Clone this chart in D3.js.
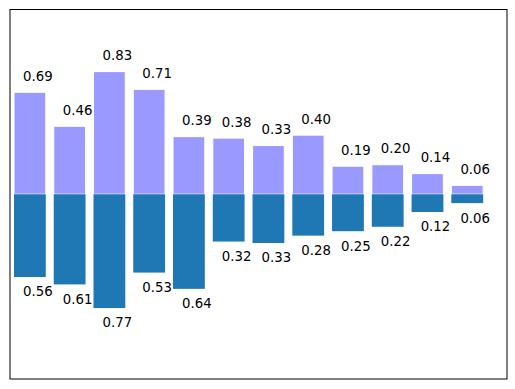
<!DOCTYPE html>
<html><head><meta charset="utf-8">
<script src="https://cdn.jsdelivr.net/npm/d3@7"></script>
<style>body{margin:0;background:#fff}svg{display:block}</style>
</head><body>
<script>
const categories = [0,1,2,3,4,5,6,7,8,9,10,11];
const upper = [0.69,0.46,0.83,0.71,0.39,0.38,0.33,0.40,0.19,0.20,0.14,0.06];
const lower = [0.56,0.61,0.77,0.53,0.64,0.32,0.33,0.28,0.25,0.22,0.12,0.06];

const W = 515, H = 389;
const L = 10, R = 507, T = 9.5, B = 379;
const svg = d3.select("body").append("svg").attr("width", W).attr("height", H);
const x = d3.scaleLinear().domain([-0.5, 12]).range([L, R]);
const y = d3.scaleLinear().domain([-1.25, 1.25]).range([B, T]);
const bw = x(0.8) - x(0);

svg.selectAll("rect.up").data(categories).enter().append("rect")
  .attr("x", d => x(d - 0.4)).attr("width", bw)
  .attr("y", d => y(upper[d])).attr("height", d => y(0) - y(upper[d]))
  .attr("fill", "#9999ff").attr("stroke", "white").attr("stroke-width", 1.1);

svg.selectAll("rect.dn").data(categories).enter().append("rect")
  .attr("x", d => x(d - 0.4)).attr("width", bw)
  .attr("y", y(0)).attr("height", d => y(-lower[d]) - y(0))
  .attr("fill", "#1f77b4");

const font = "DejaVu Sans, sans-serif";
svg.selectAll("text.up").data(categories).enter().append("text")
  .attr("x", d => x(d + 0.2)).attr("y", d => y(upper[d] + 0.05) - 4)
  .attr("text-anchor", "middle").attr("font-family", font).attr("font-size", 13.3)
  .attr("fill", "#000")
  .text(d => upper[d].toFixed(2));

svg.selectAll("text.dn").data(categories).enter().append("text")
  .attr("x", d => x(d + 0.2)).attr("y", d => y(-lower[d] - 0.05) + 12)
  .attr("text-anchor", "middle").attr("font-family", font).attr("font-size", 13.3)
  .attr("fill", "#000")
  .text(d => lower[d].toFixed(2));

svg.append("rect").attr("x", L).attr("y", T).attr("width", R - L).attr("height", B - T)
  .attr("fill", "none").attr("stroke", "black").attr("stroke-width", 1);
</script>
</body></html>
